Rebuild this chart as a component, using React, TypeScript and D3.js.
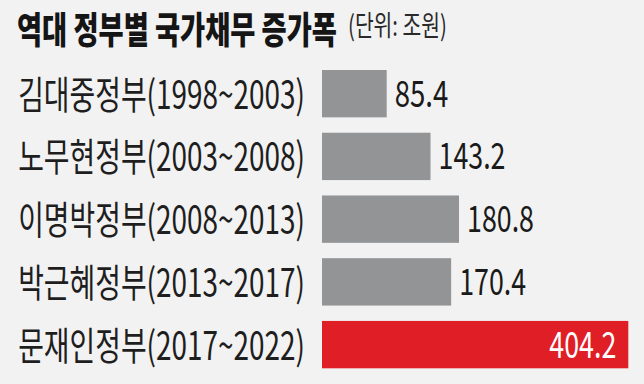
import React, { useLayoutEffect, useRef, useState } from "react";
import * as d3 from "d3";

const categories = [
  "김대중정부(1998~2003)",
  "노무현정부(2003~2008)",
  "이명박정부(2008~2013)",
  "박근혜정부(2013~2017)",
  "문재인정부(2017~2022)",
];
const values = [85.4, 143.2, 180.8, 170.4, 404.2];
const highlight = [false, false, false, false, true];
const title = "역대 정부별 국가채무 증가폭";
const unit = "(단위: 조원)";

const W = 644;
const H = 384;
const FONT = "'Noto Sans CJK KR', 'Noto Sans', sans-serif";

type FitProps = {
  x: number;
  y: number;
  width: number;
  anchor?: "start" | "end";
  size: number;
  weight: number;
  fill: string;
  children: string;
};

// Condensed newspaper type: text is squeezed horizontally to a target width.
function FitText({ x, y, width, anchor = "start", size, weight, fill, children }: FitProps) {
  const ref = useRef<SVGTextElement>(null);
  const [s, setS] = useState(1);
  useLayoutEffect(() => {
    if (ref.current) {
      const n = ref.current.getComputedTextLength();
      if (n > 0) setS(width / n);
    }
  }, [children, width, size, weight]);
  return (
    <text
      ref={ref}
      transform={`translate(${x},${y}) scale(${s},1)`}
      textAnchor={anchor}
      fontFamily={FONT}
      fontWeight={weight}
      fontSize={size}
      fill={fill}
    >
      {children}
    </text>
  );
}

export default function App() {
  const y = d3
    .scaleBand<number>()
    .domain(d3.range(categories.length))
    .range([70, 368.3])
    .paddingInner(0.245)
    .paddingOuter(0);
  const x = d3
    .scaleLinear()
    .domain([0, d3.max(values) as number])
    .range([322, 628.3]);
  const bw = y.bandwidth();

  return (
    <svg
      width={W}
      height={H}
      style={{ position: "absolute", left: 0, top: 0, display: "block" }}
    >
      <rect x={0} y={0} width={W} height={H} fill="#f2f2f2" />
      <FitText x={17} y={43.5} width={320} size={37} weight={900} fill="#151515">
        {title}
      </FitText>
      <FitText x={348} y={36} width={99} size={28} weight={400} fill="#2a2a2a">
        {unit}
      </FitText>
      {categories.map((c, i) => {
        const top = y(i) as number;
        const cy = top + bw / 2;
        const v = values[i];
        const hl = highlight[i];
        const label = v.toFixed(1);
        const lw = label.length * 13.4;
        return (
          <g key={c}>
            <FitText x={305} y={cy + 15} width={287} anchor="end" size={39} weight={400} fill="#1e1e1e">
              {c}
            </FitText>
            <rect
              x={x(0)}
              y={top}
              width={x(v) - x(0)}
              height={bw}
              fill={hl ? "#e01e26" : "#939496"}
            />
            <FitText
              x={hl ? x(v) - 12 : x(v) + 8}
              y={cy + 13}
              width={lw}
              anchor={hl ? "end" : "start"}
              size={37}
              weight={400}
              fill={hl ? "#ffffff" : "#1a1a1a"}
            >
              {label}
            </FitText>
          </g>
        );
      })}
    </svg>
  );
}
